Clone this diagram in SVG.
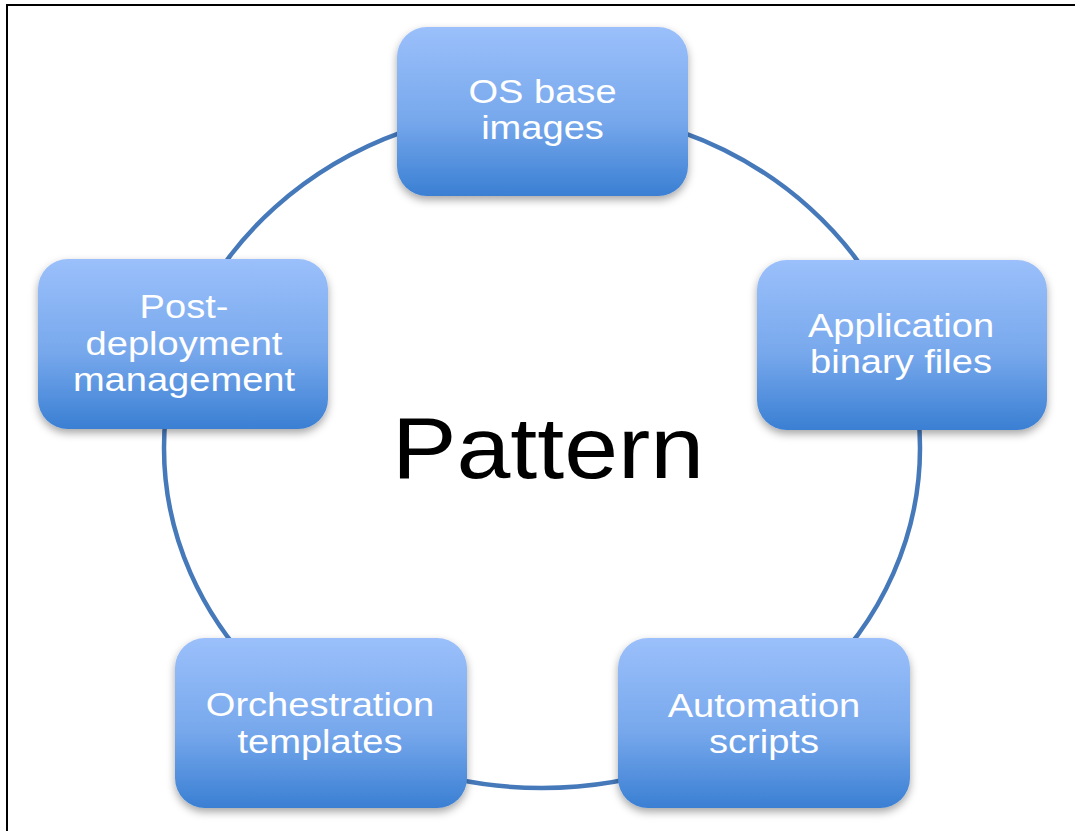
<svg xmlns="http://www.w3.org/2000/svg" width="1075" height="831" viewBox="0 0 1075 831">
  <defs>
    <linearGradient id="boxFill" x1="0" y1="0" x2="0" y2="1">
      <stop offset="0" stop-color="#9bc0fb"/>
      <stop offset="0.55" stop-color="#77a8ec"/>
      <stop offset="1" stop-color="#3a7fd3"/>
    </linearGradient>
    <filter id="shadow" x="-10%" y="-10%" width="120%" height="130%">
      <feDropShadow dx="0" dy="4" stdDeviation="4" flood-color="#000" flood-opacity="0.35"/>
    </filter>
    <style>
      .box { fill: url(#boxFill); filter: url(#shadow); }
      .label { font-family: "Liberation Sans", Arial, sans-serif; font-size: 34px; fill: #ffffff; text-anchor: middle; }
      .ring { fill: none; stroke: #4679ba; stroke-width: 4.5; }
      .title { font-family: "Liberation Sans", Arial, sans-serif; font-size: 88px; fill: #000000; text-anchor: middle; }
    </style>
  </defs>

  <rect width="1075" height="831" fill="#ffffff"/>
  <!-- frame -->
  <path d="M7,831 V5 H1075" fill="none" stroke="#000" stroke-width="2"/>

  <!-- connectors: the cycle ring -->
  <g id="connectors">
    <ellipse class="ring" cx="542" cy="448" rx="378" ry="340"/>
  </g>

  <text class="title" transform="translate(548,478) scale(1.1,1)" x="0" y="0">Pattern</text>

  <g id="node-os">
    <rect class="box" x="397" y="27" width="291" height="169" rx="30"/>
    <g transform="translate(542.5,0) scale(1.12,1)">
      <text class="label" x="0" y="103">OS base</text>
      <text class="label" x="0" y="139">images</text>
    </g>
  </g>

  <g id="node-app">
    <rect class="box" x="757" y="260" width="290" height="170" rx="30"/>
    <g transform="translate(901,0) scale(1.12,1)">
      <text class="label" x="0" y="337">Application</text>
      <text class="label" x="0" y="373">binary files</text>
    </g>
  </g>

  <g id="node-automation">
    <rect class="box" x="618" y="638" width="292" height="170" rx="30"/>
    <g transform="translate(764,0) scale(1.12,1)">
      <text class="label" x="0" y="717">Automation</text>
      <text class="label" x="0" y="753">scripts</text>
    </g>
  </g>

  <g id="node-orchestration">
    <rect class="box" x="175" y="638" width="292" height="170" rx="30"/>
    <g transform="translate(320,0) scale(1.12,1)">
      <text class="label" x="0" y="716">Orchestration</text>
      <text class="label" x="0" y="753">templates</text>
    </g>
  </g>

  <g id="node-post">
    <rect class="box" x="38" y="259" width="290" height="170" rx="30"/>
    <g transform="translate(184,0) scale(1.12,1)">
      <text class="label" x="0" y="318">Post-</text>
      <text class="label" x="0" y="355">deployment</text>
      <text class="label" x="0" y="391">management</text>
    </g>
  </g>
</svg>
